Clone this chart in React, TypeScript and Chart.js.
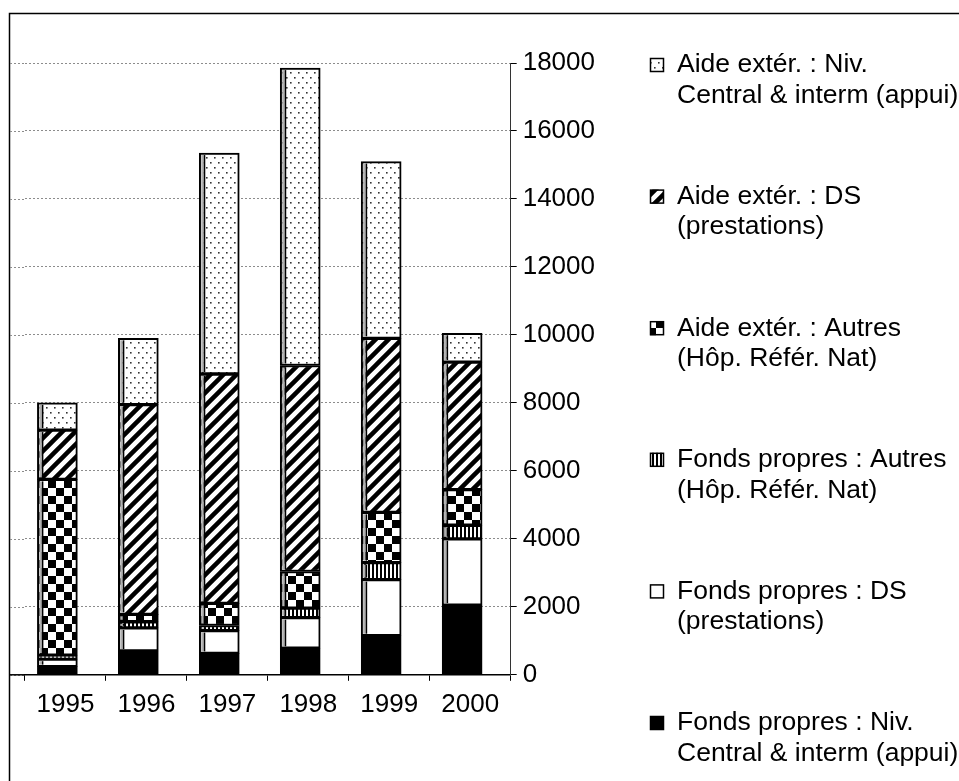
import React, { useEffect, useRef } from 'react';
import { Chart, registerables } from 'chart.js';

Chart.register(...registerables);

// ---- data ----
const years = ['1995', '1996', '1997', '1998', '1999', '2000'];
const fondsNiv = [240, 700, 630, 780, 1150, 2050];
const fondsDS = [220, 680, 670, 900, 1650, 1950];
const fondsAutres = [120, 180, 150, 280, 500, 400];
const aideAutres = [5170, 220, 650, 1080, 1480, 1050];
const aideDS = [1450, 6170, 6750, 6060, 5120, 3750];
const aideNiv = [800, 1950, 6500, 8750, 5200, 850];

const seriesNames = [
  'Fonds propres : Niv. Central & interm (appui)',
  'Fonds propres : DS (prestations)',
  'Fonds propres : Autres (Hôp. Référ. Nat)',
  'Aide extér. : Autres (Hôp. Référ. Nat)',
  'Aide extér. : DS (prestations)',
  'Aide extér. : Niv. Central & interm (appui)',
];
// legend lines, same order as series
const legendLines = [
  ['Fonds propres : Niv.', 'Central & interm (appui)'],
  ['Fonds propres : DS', '(prestations)'],
  ['Fonds propres : Autres', '(Hôp. Référ. Nat)'],
  ['Aide extér. : Autres', '(Hôp. Référ. Nat)'],
  ['Aide extér. : DS', '(prestations)'],
  ['Aide extér. : Niv.', 'Central & interm (appui)'],
];
const seriesValues = [fondsNiv, fondsDS, fondsAutres, aideAutres, aideDS, aideNiv];
const patternKinds = ['black', 'white', 'vstripe', 'checker', 'diag', 'dots'];

const FONT = '"Liberation Sans", Arial, sans-serif';

function makePattern(kind: string): CanvasPattern | string {
  if (kind === 'black') return '#000';
  if (kind === 'white') return '#fff';
  const c = document.createElement('canvas');
  const x = c.getContext('2d')!;
  if (kind === 'vstripe') {
    c.width = 4; c.height = 4;
    x.fillStyle = '#fff'; x.fillRect(0, 0, 4, 4);
    x.fillStyle = '#000'; x.fillRect(0, 0, 2, 4);
  } else if (kind === 'checker') {
    c.width = 16; c.height = 16;
    x.fillStyle = '#fff'; x.fillRect(0, 0, 16, 16);
    x.fillStyle = '#000'; x.fillRect(0, 0, 8, 8); x.fillRect(8, 8, 8, 8);
  } else if (kind === 'diag') {
    c.width = 13; c.height = 13;
    x.fillStyle = '#fff'; x.fillRect(0, 0, 13, 13);
    x.strokeStyle = '#000'; x.lineWidth = 4.5;
    x.beginPath();
    x.moveTo(-3, 16); x.lineTo(16, -3);
    x.moveTo(-3, 3); x.lineTo(3, -3);
    x.moveTo(10, 16); x.lineTo(16, 10);
    x.stroke();
  } else if (kind === 'dots') {
    c.width = 8; c.height = 10;
    x.fillStyle = '#fff'; x.fillRect(0, 0, 8, 10);
    x.fillStyle = '#333';
    x.fillRect(2, 2, 1.6, 1.6); x.fillRect(6, 7, 1.6, 1.6);
  }
  return x.createPattern(c, 'repeat')!;
}

const decorPlugin = {
  id: 'decor',
  beforeDraw(chart: any) {
    const { ctx, chartArea, scales } = chart;
    ctx.save();
    ctx.fillStyle = '#fff';
    ctx.fillRect(0, 0, chart.width, chart.height);
    // outer frame (cut by the page edge)
    ctx.strokeStyle = '#000';
    ctx.lineWidth = 1.5;
    ctx.beginPath();
    ctx.moveTo(9.5, chart.height + 5);
    ctx.lineTo(9.5, 13.5);
    ctx.lineTo(chart.width + 5, 13.5);
    ctx.stroke();
    // grid line extension to the frame
    const ys = scales.y;
    ctx.strokeStyle = '#8c8c8c';
    ctx.lineWidth = 1;
    ctx.setLineDash([2, 2]);
    ys.ticks.forEach((t: any) => {
      const py = Math.round(ys.getPixelForValue(t.value)) + 0.5;
      ctx.beginPath();
      ctx.moveTo(10, py);
      ctx.lineTo(chartArea.left, py);
      ctx.stroke();
    });
    ctx.restore();
  },
  afterDatasetsDraw(chart: any) {
    // thin grey side strip on the left of each bar segment
    const { ctx } = chart;
    ctx.save();
    chart.data.datasets.forEach((ds: any, i: number) => {
      if (ds.backgroundColor === '#000') return;
      const meta = chart.getDatasetMeta(i);
      meta.data.forEach((el: any) => {
        const p = el.getProps(['x', 'y', 'base', 'width'], true);
        const left = p.x - p.width / 2;
        const top = Math.min(p.y, p.base) + 2;
        const h = Math.abs(p.base - p.y) - 4;
        if (h <= 0) return;
        ctx.fillStyle = '#b0b0b0';
        ctx.fillRect(left + 2, top, 2.5, h);
        ctx.fillStyle = '#000';
        ctx.fillRect(left + 4.5, top, 1.5, h);
      });
    });
    ctx.restore();
  },
  afterDraw(chart: any) {
    const { ctx, chartArea } = chart;
    ctx.save();
    ctx.strokeStyle = '#000';
    ctx.lineWidth = 1.5;
    ctx.beginPath();
    ctx.moveTo(10, chartArea.bottom);
    ctx.lineTo(chartArea.left, chartArea.bottom);
    ctx.stroke();
    // legend (top to bottom = last series first)
    const top = 65;
    const step = 131.6;
    const boxX = 650;
    const textX = 677;
    ctx.font = `26.5px ${FONT}`;
    ctx.textBaseline = 'middle';
    ctx.textAlign = 'left';
    const ds = chart.data.datasets;
    for (let k = 0; k < ds.length; k++) {
      const idx = ds.length - 1 - k;
      const y = top + k * step;
      ctx.fillStyle = ds[idx].backgroundColor;
      ctx.fillRect(boxX, y - 7, 14, 14);
      ctx.strokeStyle = '#000';
      ctx.lineWidth = 1.5;
      ctx.strokeRect(boxX + 0.5, y - 6.5, 13, 13);
      ctx.fillStyle = '#000';
      legendLines[idx].forEach((line, j) => {
        ctx.fillText(line, textX, y + j * 30.5);
      });
    }
    ctx.restore();
  },
};

export default function App() {
  const ref = useRef<HTMLCanvasElement>(null);
  useEffect(() => {
    Chart.defaults.font.family = FONT;
    Chart.defaults.color = '#000';
    const datasets = seriesValues.map((vals, i) => ({
      label: seriesNames[i],
      data: vals.map((v, j) => ({ x: j, y: v })),
      backgroundColor: makePattern(patternKinds[i]) as any,
      borderColor: '#000',
      borderWidth: 2,
      borderSkipped: false,
      barThickness: 40,
      xAxisID: 'xb',
      yAxisID: 'y',
    }));
    const chart = new Chart(ref.current!, {
      type: 'bar',
      data: { labels: years, datasets },
      options: {
        animation: false,
        responsive: false,
        maintainAspectRatio: false,
        layout: { padding: { left: 25, top: 63, right: 358, bottom: 53 } },
        plugins: { legend: { display: false }, tooltip: { enabled: false } },
        scales: {
          x: {
            type: 'category',
            labels: years,
            position: 'bottom',
            offset: true,
            grid: { offset: true, drawOnChartArea: false, drawTicks: true, tickLength: 6, tickColor: '#000', tickWidth: 1 },
            border: { color: '#000', width: 1.5 },
            ticks: { color: '#000', font: { size: 26 }, padding: 8, maxRotation: 0, autoSkip: false },
          },
          xb: {
            type: 'linear',
            display: false,
            min: -0.4,
            max: 5.6,
            stacked: true,
            offset: false,
            grid: { offset: false },
          },
          y: {
            type: 'linear',
            position: 'right',
            min: 0,
            max: 18000,
            stacked: true,
            ticks: { stepSize: 2000, color: '#000', font: { size: 26 }, padding: 6, callback: (v: any) => String(v) },
            grid: { color: '#8c8c8c', tickColor: '#000', tickLength: 6, lineWidth: 1 },
            border: { color: '#333', width: 1, dash: [2, 2] },
          },
        } as any,
      },
      plugins: [decorPlugin],
    });
    return () => chart.destroy();
  }, []);
  return (
    <div style={{ position: 'fixed', left: 0, top: 0, width: 959, height: 781, background: '#fff' }}>
      <canvas ref={ref} width={959} height={781} style={{ display: 'block', width: 959, height: 781 }} />
    </div>
  );
}
